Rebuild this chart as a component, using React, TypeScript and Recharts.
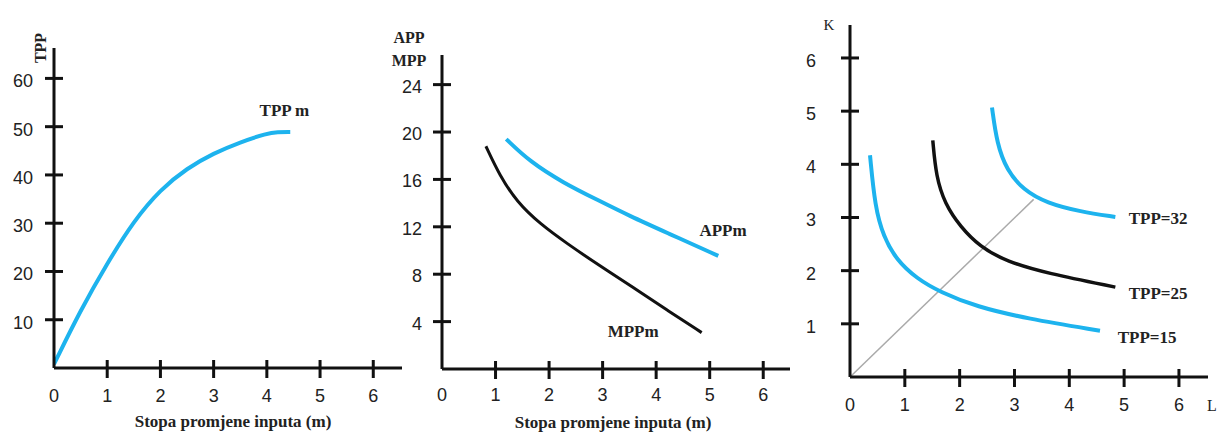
import React from 'react';
import { LineChart, Line, XAxis, YAxis, ReferenceDot } from 'recharts';

const W = 1219;
const H = 432;
const BLUE = '#1db3ee';
const INK = '#111';
const SANS = '"Liberation Sans", Arial, sans-serif';
const SERIF = '"Liberation Serif", "Times New Roman", serif';

// panel 1: TPP
const tppX = [0, 0.5, 1, 1.5, 2, 2.5, 3, 3.5, 4, 4.2, 4.44];
const tppY = [0.8, 12, 21.7, 30.5, 37, 41.4, 44.5, 46.8, 48.6, 48.9, 48.9];
const tppTicksX = [0, 1, 2, 3, 4, 5, 6];
const tppTicksY = [10, 20, 30, 40, 50, 60];

// panel 2: APP / MPP
const appX = [1.2, 1.64, 2.27, 2.89, 3.51, 4.2, 5.16];
const appY = [19.4, 17.5, 15.7, 14.3, 12.9, 11.5, 9.55];
const mppX = [0.82, 1.08, 1.4, 1.83, 2.33, 2.95, 3.58, 4.2, 4.85];
const mppY = [18.8, 16.3, 14.1, 12.25, 10.6, 8.7, 6.85, 4.99, 3.07];
const avgTicksX = [0, 1, 2, 3, 4, 5, 6];
const avgTicksY = [4, 8, 12, 16, 20, 24];

// panel 3: isoquants
const q15X = [0.365, 0.456, 0.61, 0.85, 1.22, 1.64, 2.31, 3.22, 4.56];
const q15Y = [4.17, 3.2, 2.64, 2.2, 1.85, 1.6, 1.32, 1.1, 0.87];
const q25X = [1.51, 1.57, 1.73, 2.01, 2.37, 2.86, 3.59, 4.84];
const q25Y = [4.45, 3.77, 3.26, 2.83, 2.45, 2.17, 1.95, 1.69];
const q32X = [2.59, 2.68, 2.86, 3.16, 3.59, 4.2, 4.84];
const q32Y = [5.07, 4.39, 3.89, 3.52, 3.27, 3.11, 3.01];
const rayX = [0, 3.35];
const rayY = [0, 3.34];
const isoTicksX = [0, 1, 2, 3, 4, 5, 6];
const isoTicksY = [1, 2, 3, 4, 5, 6];

const zip = (xs: number[], ys: number[]) => xs.map((x, i) => ({ x, y: ys[i] }));

const yTick = (gap: number, dy: number) => (props: any) => {
  const { x, y, payload } = props;
  return (
    <g>
      <line x1={x - 9} x2={x + 9} y1={y} y2={y} stroke={INK} strokeWidth={3} />
      <text x={x - gap} y={y + dy} textAnchor="end" dominantBaseline="central"
        fontSize={18} fontFamily={SANS} fill="#222">{payload.value}</text>
    </g>
  );
};

const xTick = (dy: number) => (props: any) => {
  const { x, y, payload } = props;
  return (
    <g>
      {payload.value !== 0 && (
        <line x1={x} x2={x} y1={y - 8} y2={y + 10} stroke={INK} strokeWidth={3} />
      )}
      <text x={x} y={y + dy} textAnchor="middle" dominantBaseline="central"
        fontSize={18} fontFamily={SANS} fill="#222">{payload.value}</text>
    </g>
  );
};

const caption = (txt: string, x: number, y: number, size = 17, rotate = false, bold = true) => () => (
  <text x={x} y={y} textAnchor="middle" dominantBaseline="central" fontSize={size}
    fontFamily={SERIF} fontWeight={bold ? 'bold' : 'normal'} fill="#222"
    transform={rotate ? `rotate(-90 ${x} ${y})` : undefined}>{txt}</text>
);

const curveLabel = (value: string) => ({
  value, position: 'center' as const, fontSize: 17, fontFamily: SERIF, fontWeight: 'bold', fill: '#222',
});

const axisLine = { stroke: INK, strokeWidth: 3 };

export default function App() {
  const box: React.CSSProperties = { position: 'absolute', left: 0, top: 0 };
  return (
    <div style={{ position: 'fixed', left: 0, top: 0, width: W, height: H, background: '#fff' }}>
      <div style={box}>
        <LineChart width={W} height={H} margin={{ top: 48, right: W - 402, bottom: 0, left: 0 }}>
          <XAxis dataKey="x" type="number" domain={[0, 6.54]} allowDataOverflow ticks={tppTicksX}
            interval={0} tickSize={0} tickMargin={0} tickLine={false} axisLine={axisLine}
            tick={xTick(28)} height={64}
            label={{ content: caption('Stopa promjene inputa (m)', 233, 421) }} />
          <YAxis dataKey="y" type="number" domain={[0, 66.3]} allowDataOverflow ticks={tppTicksY}
            interval={0} tickSize={0} tickMargin={0} tickLine={false} axisLine={axisLine}
            tick={yTick(21, 3)} width={54}
            label={{ content: caption('TPP', 40, 48, 16, true) }} />
          <Line data={zip(tppX, tppY)} dataKey="y" type="basis" stroke={BLUE} strokeWidth={4}
            dot={false} isAnimationActive={false} />
          <ReferenceDot x={4.33} y={53.4} r={1} fill="none" stroke="none" label={curveLabel('TPP m')} />
        </LineChart>
      </div>

      <div style={box}>
        <LineChart width={W} height={H} margin={{ top: 55, right: W - 790, bottom: 0, left: 400 }}>
          <XAxis dataKey="x" type="number" domain={[0, 6.5]} allowDataOverflow ticks={avgTicksX}
            interval={0} tickSize={0} tickMargin={0} tickLine={false} axisLine={axisLine}
            tick={xTick(26)} height={63}
            label={{ content: caption('Stopa promjene inputa (m)', 613, 422) }} />
          <YAxis dataKey="y" type="number" domain={[0, 26.5]} allowDataOverflow ticks={avgTicksY}
            interval={0} tickSize={0} tickMargin={0} tickLine={false} axisLine={axisLine}
            tick={yTick(20, 2)} width={42}
            label={{ content: () => (
              <g>
                {caption('APP', 409, 37, 16)()}
                {caption('MPP', 409, 60, 16)()}
              </g>
            ) }} />
          <Line data={zip(appX, appY)} dataKey="y" type="basis" stroke={BLUE} strokeWidth={4}
            dot={false} isAnimationActive={false} />
          <Line data={zip(mppX, mppY)} dataKey="y" type="basis" stroke={INK} strokeWidth={3}
            dot={false} isAnimationActive={false} />
          <ReferenceDot x={5.25} y={11.75} r={1} fill="none" stroke="none" label={curveLabel('APPm')} />
          <ReferenceDot x={3.57} y={3.2} r={1} fill="none" stroke="none" label={curveLabel('MPPm')} />
        </LineChart>
      </div>

      <div style={box}>
        <LineChart width={W} height={H} margin={{ top: 25, right: W - 1208, bottom: 0, left: 800 }}>
          <XAxis dataKey="x" type="number" domain={[0, 6.53]} allowDataOverflow ticks={isoTicksX}
            interval={0} tickSize={0} tickMargin={0} tickLine={false} axisLine={axisLine}
            tick={xTick(28)} height={55}
            label={{ content: caption('L', 1212, 405, 16, false, false) }} />
          <YAxis dataKey="y" type="number" domain={[0, 6.62]} allowDataOverflow ticks={isoTicksY}
            interval={0} tickSize={0} tickMargin={0} tickLine={false} axisLine={axisLine}
            tick={yTick(34, 3)} width={50}
            label={{ content: caption('K', 829, 25, 15, false, false) }} />
          <Line data={zip(rayX, rayY)} dataKey="y" type="linear" stroke="#aaa" strokeWidth={1.5}
            dot={false} isAnimationActive={false} />
          <Line data={zip(q15X, q15Y)} dataKey="y" type="basis" stroke={BLUE} strokeWidth={4}
            dot={false} isAnimationActive={false} />
          <Line data={zip(q25X, q25Y)} dataKey="y" type="basis" stroke={INK} strokeWidth={3.5}
            dot={false} isAnimationActive={false} />
          <Line data={zip(q32X, q32Y)} dataKey="y" type="basis" stroke={BLUE} strokeWidth={4}
            dot={false} isAnimationActive={false} />
          <ReferenceDot x={5.62} y={2.99} r={1} fill="none" stroke="none" label={curveLabel('TPP=32')} />
          <ReferenceDot x={5.62} y={1.58} r={1} fill="none" stroke="none" label={curveLabel('TPP=25')} />
          <ReferenceDot x={5.42} y={0.75} r={1} fill="none" stroke="none" label={curveLabel('TPP=15')} />
        </LineChart>
      </div>
    </div>
  );
}
